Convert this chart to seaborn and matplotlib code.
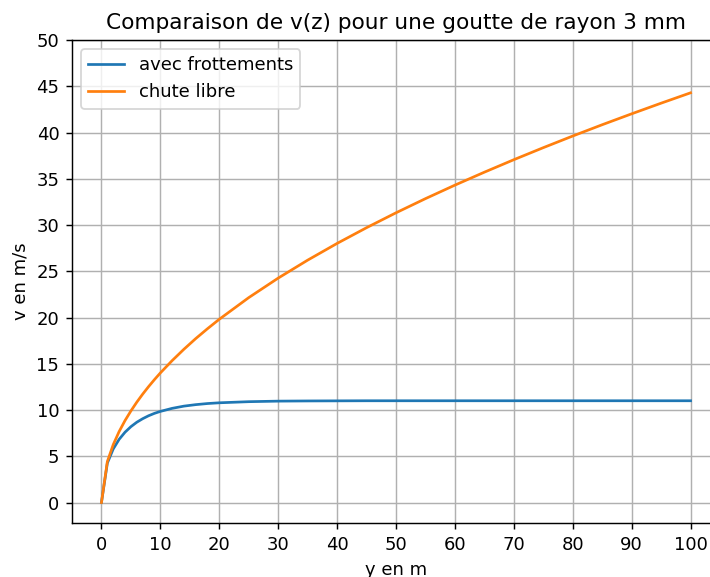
import matplotlib
matplotlib.use("Agg")
import matplotlib.pyplot as plt
import seaborn as sns
import numpy as np
import pandas as pd

# Height of fall (m)
hauteur = [0, 1, 2, 3, 4, 5, 6, 7, 8, 9, 10, 12, 14, 16, 18, 20,
           25, 30, 35, 40, 45, 50, 55, 60, 65, 70, 75, 80, 85, 90, 95, 100]

# Speed with air drag (m/s)
v_frottements = [0.00, 4.26, 5.79, 6.83, 7.60, 8.20, 8.68, 9.06, 9.38, 9.64,
                 9.85, 10.18, 10.42, 10.58, 10.70, 10.78, 10.90, 10.96, 10.98,
                 10.99, 11.00, 11.00, 11.00, 11.00, 11.00, 11.00, 11.00, 11.00,
                 11.00, 11.00, 11.00, 11.00]

# Speed in free fall (m/s)
v_chute_libre = [0.00, 4.43, 6.26, 7.67, 8.86, 9.90, 10.85, 11.72, 12.53, 13.29,
                 14.01, 15.34, 16.57, 17.72, 18.79, 19.81, 22.15, 24.26, 26.20,
                 28.01, 29.71, 31.32, 32.85, 34.31, 35.71, 37.06, 38.36, 39.62,
                 40.84, 42.02, 43.17, 44.29]

df = pd.DataFrame({"y": hauteur, "frott": v_frottements, "libre": v_chute_libre})

DPI = 130
fig = plt.figure(figsize=(710 / DPI, 577 / DPI), dpi=DPI)
ax = fig.add_axes([72 / 710, 54 / 577, 648 / 710, 483 / 577])

sns.lineplot(data=df, x="y", y="frott", ax=ax, color="#1f77b4",
             label="avec frottements", sort=False, linewidth=1.5)
sns.lineplot(data=df, x="y", y="libre", ax=ax, color="#ff7f0e",
             label="chute libre", sort=False, linewidth=1.5)

ax.set_ylim(top=50)
ax.set_xticks(np.arange(0, 101, 10))
ax.set_yticks(np.arange(0, 51, 5))
ax.grid(True, color="#b0b0b0", linewidth=0.8)
ax.set_axisbelow(True)
ax.set_title("Comparaison de v(z) pour une goutte de rayon 3 mm", fontsize=12)
ax.set_xlabel("y en m")
ax.set_ylabel("v en m/s")
ax.legend(loc="upper left")

fig.savefig("out.png", dpi=DPI)
